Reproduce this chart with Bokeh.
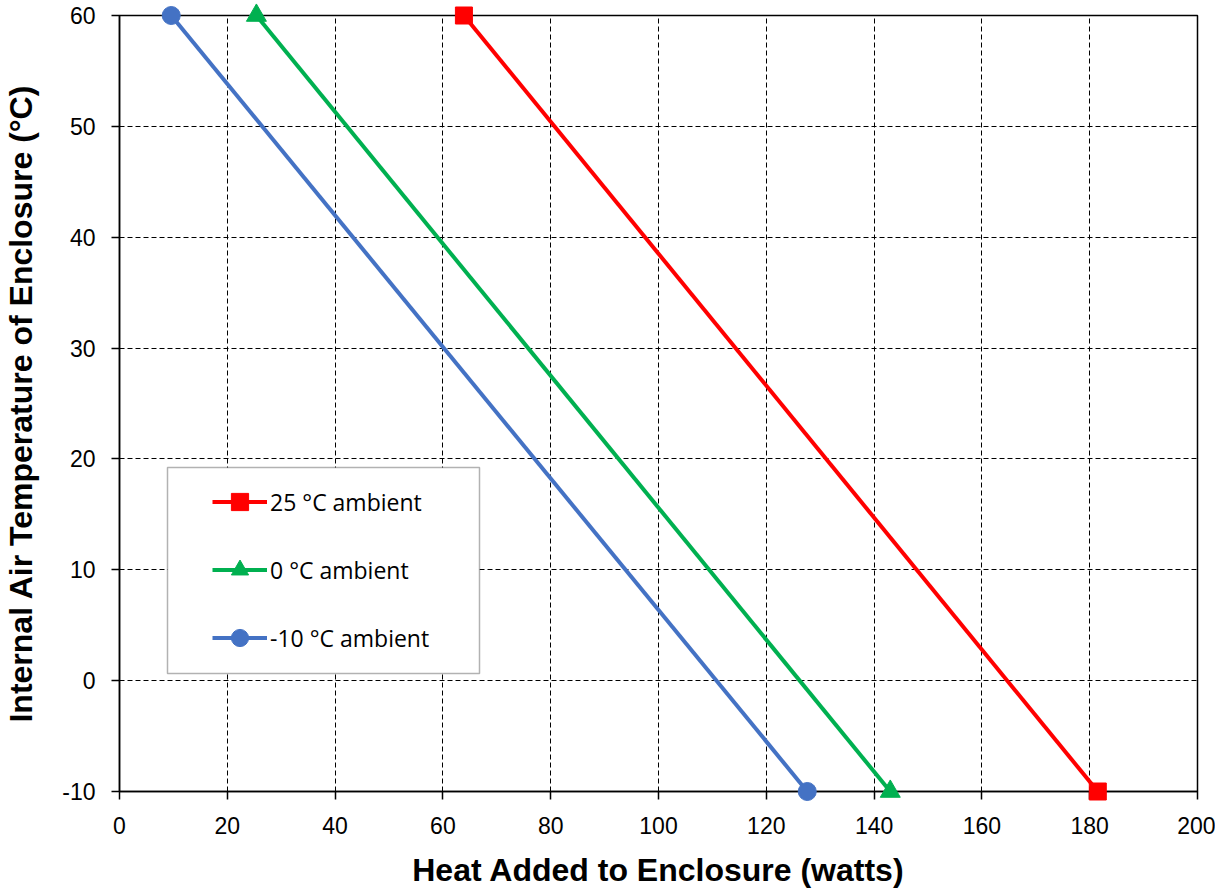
from bokeh.plotting import figure
from bokeh.models import (Range1d, FixedTicker, Legend, LegendItem, ColumnDataSource,
                          BoxAnnotation, CustomJSTickFormatter)
from bokeh.embed import file_html
from bokeh.resources import INLINE

# ---- data ----
series_names = ["25 °C ambient", "0 °C ambient", "-10 °C ambient"]
heat_25 = [63.9, 181.5]
heat_0 = [25.4, 143.0]
heat_m10 = [9.6, 127.6]
temp = [60, -10]
x_ticks = [0, 20, 40, 60, 80, 100, 120, 140, 160, 180, 200]
y_ticks = [-10, 0, 10, 20, 30, 40, 50, 60]

colors = ["#FF0000", "#00B050", "#4472C4"]
markers = ["square", "triangle", "circle"]
msizes = [17, 20, 18]

p = figure(
    output_backend="svg", toolbar_location=None,
    width=1215, height=890,
    min_border_left=119, min_border_top=15, min_border_right=18, min_border_bottom=99,
    x_range=Range1d(0, 200), y_range=Range1d(-10, 60),
)
p.background_fill_color = "white"
p.border_fill_color = "white"
p.outline_line_color = "black"
p.outline_line_width = 1.5

fmt = CustomJSTickFormatter(code="return String(tick);")
for ax, ticks in ((p.xaxis[0], x_ticks), (p.yaxis[0], y_ticks)):
    ax.ticker = FixedTicker(ticks=ticks)
    ax.formatter = fmt
    ax.axis_line_color = "black"
    ax.axis_line_width = 1.5
    ax.major_tick_line_color = "black"
    ax.major_tick_line_width = 1.5
    ax.major_tick_in = 0
    ax.major_tick_out = 8
    ax.minor_tick_line_color = None
    ax.major_label_text_font = "Liberation Sans"
    ax.major_label_text_font_size = "23px"
    ax.major_label_text_color = "black"
    ax.axis_label_text_font = "Liberation Sans"
    ax.axis_label_text_font_style = "bold"
    ax.axis_label_text_font_size = "32px"
    ax.axis_label_text_color = "black"

p.xaxis.axis_label = "Heat Added to Enclosure (watts)"
p.yaxis.axis_label = "Internal Air Temperature of Enclosure (°C)"
p.xaxis.major_label_standoff = 17
p.yaxis.major_label_standoff = 16
p.xaxis.axis_label_standoff = 15
p.yaxis.axis_label_standoff = 20

for g in (p.xgrid[0], p.ygrid[0]):
    g.grid_line_color = "black"
    g.grid_line_width = 1
    g.grid_line_dash = "5 3"

items = []
for name, xs, c, m, s in zip(series_names, [heat_25, heat_0, heat_m10], colors, markers, msizes):
    src = ColumnDataSource(dict(x=xs, y=temp))
    r1 = p.line("x", "y", source=src, line_color=c, line_width=4, level="overlay")
    r2 = p.scatter("x", "y", source=src, marker=m, size=s, fill_color=c, line_color=c, level="overlay")
    items.append(LegendItem(label=name, renderers=[r1, r2]))

# legend frame (drawn separately so the inner padding can differ left/top)
legend_box = BoxAnnotation(
    left=167, right=479, top=467, bottom=673,
    left_units="canvas", right_units="canvas", top_units="canvas", bottom_units="canvas",
    fill_color="white", fill_alpha=1.0, line_color="black", line_width=1.5,
)
p.add_layout(legend_box)

legend = Legend(
    items=items, location=(93, 132),
    padding=14, spacing=25, glyph_width=55, glyph_height=43, label_height=20,
    label_standoff=3,
    label_text_font="Open Sans", label_text_font_size="23px", label_text_color="black",
    border_line_color=None, background_fill_alpha=0.0, margin=0,
)
p.add_layout(legend, "center")

open("out.html", "w").write(file_html(p, INLINE))
